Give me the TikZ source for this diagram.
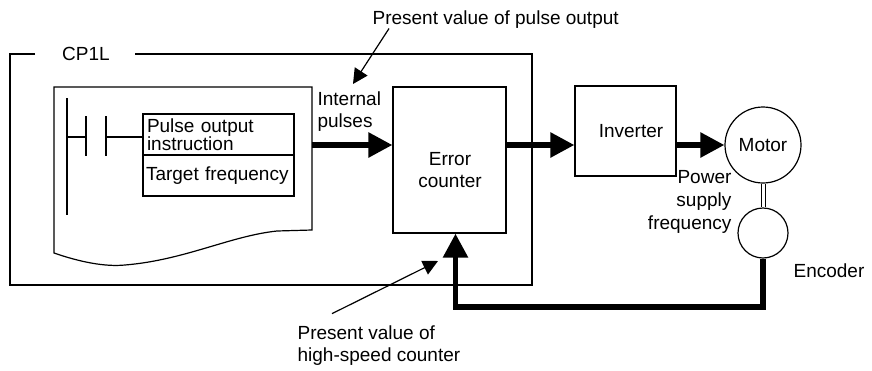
\documentclass[tikz,border=0pt]{standalone}
\usepackage{fontspec}
\setmainfont{Liberation Sans}
\usetikzlibrary{arrows.meta}
\tikzset{
  px/.style={x=1pt,y=-1pt,line width=1.2pt,font=\fontsize{19}{22}\selectfont},
  blk/.style={draw,line width=1.2pt,inner sep=0pt},
  txt/.style={inner sep=0pt},
  flow/.style={line width=5.5pt,-{Triangle[length=24pt,width=24pt]}},
  tag/.style={line width=1.2pt,-{Triangle[length=15pt,width=15pt]}},
}

\begin{document}
\begin{tikzpicture}[px]
  \useasboundingbox (0,0) rectangle (872,370);
  % CP1L frame and program sheet
  \node[txt] (cpu) at (86,54) {CP1L};
  \draw (35,54) -- (10,54) -- (10,285) -- (532,285) -- (532,54) -- (135,54);
  \draw (54,87) -- (312,87) -- (312,230) -- (277,231)
        .. controls (230,236) and (185,260) .. (125,265)
        .. controls (105,267) and (80,262) .. (54,253) -- cycle;
  \node[blk,text width=147pt,inner xsep=2pt,align=left,minimum height=41pt,
        font=\fontsize{19}{18}\selectfont] (pls) at (218.5,134.5) {\hspace*{2pt}Pulse output\\\hspace*{2pt}instruction};
  \node[blk,text width=147pt,inner xsep=2pt,align=left,minimum height=41pt] (tgt) at (218.5,175.5) {\hspace*{1pt}Target frequency};
  % ladder rung
  \draw (67,98) -- (67,215);
  \draw (67,137) -- (86,137) (86,116) -- (86,156) (106,116) -- (106,156) (106,137) -- (pls.west |- 0,137);
  % blocks
  \node[blk,minimum width=113pt,minimum height=146pt] (err) at (449.5,160) {};
  \node[txt,anchor=base,align=center] (errtxt) at (450,187) {Error\\counter};
  \node[blk,minimum width=101pt,minimum height=90pt] (inv) at (625.5,131) {};
  \node[txt,anchor=base] (invtxt) at (631,137) {Inverter};
  \node[blk,circle,minimum size=76pt] (mot) at (763,145) {Motor};
  \node[blk,circle,minimum size=50pt] (enc) at (763,233) {};
  \node[txt,anchor=base west] (enctxt) at (793,277) {Encoder};
  \node[txt,anchor=base east,align=right,font=\fontsize{19}{23}\selectfont] (psf) at (732,229) {Power\\supply\\frequency};
  % signal path
  \coordinate (sheetout) at (312,145);
  \coordinate (fbcorner) at (763,307);
  \draw[flow] (sheetout) -- (err.west |- sheetout);
  \draw[flow] (err.east |- sheetout) -- (inv.west |- sheetout);
  \draw[flow] (inv.east |- sheetout) -- (mot.west);
  \draw[double,double distance=3pt,line width=1pt] (mot.south) -- (enc.north);
  \draw[flow] (enc.south) -- (fbcorner) -| ([xshift=6pt]err.south);
  % labels with pointers
  \node[txt,anchor=base west] (pvp) at (372,24) {Present value of pulse output};
  \node[txt,anchor=base west,align=left] (ipl) at (317,127) {Internal\\pulses};
  \node[txt,anchor=base west,align=left] (pvh) at (297,361) {Present value of\\high-speed counter};
  \coordinate (pvptip) at (353,84);
  \coordinate (pvhtip) at (438,261);
  \draw[tag] ([xshift=17pt]pvp.south west) -- (pvptip);
  \draw[tag] ([xshift=35pt,yshift=11pt]pvh.north west) -- (pvhtip);
\end{tikzpicture}
\end{document}
